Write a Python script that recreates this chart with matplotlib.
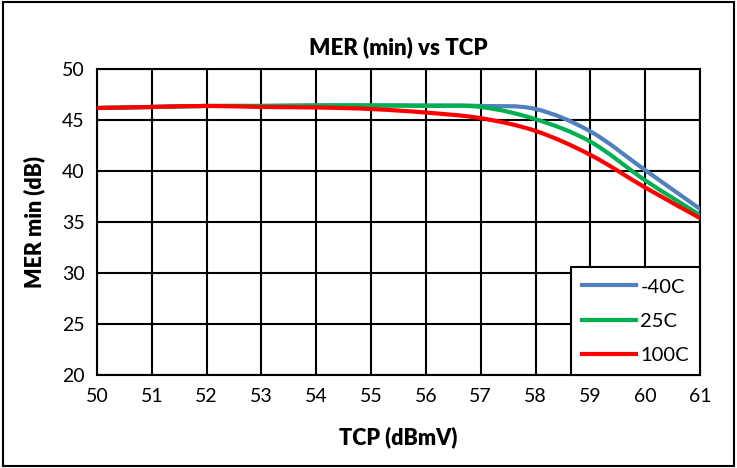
import numpy as np
import matplotlib
matplotlib.use('Agg')
from matplotlib import pyplot as plt
from matplotlib.path import Path
from matplotlib.patches import PathPatch, Rectangle
from matplotlib.lines import Line2D

plt.rcParams['font.family'] = ['Lato', 'DejaVu Sans']

## data (MER min in dB at each TCP in dBmV)
tcp = [50, 51, 52, 53, 54, 55, 56, 57, 58, 59, 60, 61]
mer_m40 = [46.2, 46.3, 46.4, 46.4, 46.45, 46.45, 46.45, 46.4, 46.1, 43.9, 40.1, 36.3]
mer_25 = [46.2, 46.3, 46.4, 46.4, 46.45, 46.45, 46.4, 46.3, 45.1, 42.9, 39.1, 35.7]
mer_100 = [46.2, 46.3, 46.4, 46.3, 46.25, 46.1, 45.75, 45.2, 43.95, 41.6, 38.4, 35.4]
labels = ['-40C', '25C', '100C']
colors = ['#4F81BD', '#00B050', '#FF0000']


def smooth_path(x, y, tension=1./6):
    """Bezier path through the points (Excel-like smoothed line)."""
    x = np.asarray(x, float)
    y = np.asarray(y, float)
    verts = [(x[0], y[0])]
    codes = [Path.MOVETO]
    n = len(x)
    for i in range(n - 1):
        i0 = max(i - 1, 0)
        i3 = min(i + 2, n - 1)
        c1 = (x[i] + (x[i+1] - x[i0]) * tension, y[i] + (y[i+1] - y[i0]) * tension)
        c2 = (x[i+1] - (x[i3] - x[i]) * tension, y[i+1] - (y[i3] - y[i]) * tension)
        verts += [c1, c2, (x[i+1], y[i+1])]
        codes += [Path.CURVE4] * 3
    return Path(verts, codes)


fig = plt.figure(figsize=(7.37, 4.68), dpi=100)
ax = fig.add_axes([0.1316, 0.1987, 0.8182, 0.6533])

for yy, lab, col in zip([mer_m40, mer_25, mer_100], labels, colors):
    ax.add_patch(PathPatch(smooth_path(tcp, yy), facecolor='none', edgecolor=col,
                           lw=3.0, capstyle='round', zorder=3))

ax.set_xlim(50, 61)
ax.set_ylim(20, 50)
ax.set_xticks(range(50, 62))
ax.set_yticks(range(20, 51, 5))
ax.grid(True, color='black', lw=1.5)
ax.tick_params(length=0, labelsize=14, pad=9)
for s in ax.spines.values():
    s.set_color('black')
    s.set_linewidth(1.5)

ax.set_title('MER (min) vs TCP', fontsize=16, fontweight='heavy', pad=11)
ax.set_xlabel('TCP (dBmV)', fontsize=15.5, fontweight='heavy', labelpad=16)
ax.set_ylabel('MER min (dB)', fontsize=15.5, fontweight='heavy', labelpad=12)

handles = [Line2D([], [], color=c, lw=3.0) for c in colors]
leg = ax.legend(handles, labels, loc='lower right', fontsize=14.5, frameon=True,
                fancybox=False, framealpha=1, edgecolor='black', borderaxespad=0,
                handlelength=2.7, handletextpad=0.2, labelspacing=0.85,
                borderpad=0.55)
leg.get_frame().set_linewidth(1.5)
leg.set_zorder(5)

## border round the whole chart
fig.patches.append(Rectangle((0.004, 0.004), 0.992, 0.992, transform=fig.transFigure,
                             fill=False, edgecolor='black', lw=1.5))

fig.savefig('out.png', dpi=100)
